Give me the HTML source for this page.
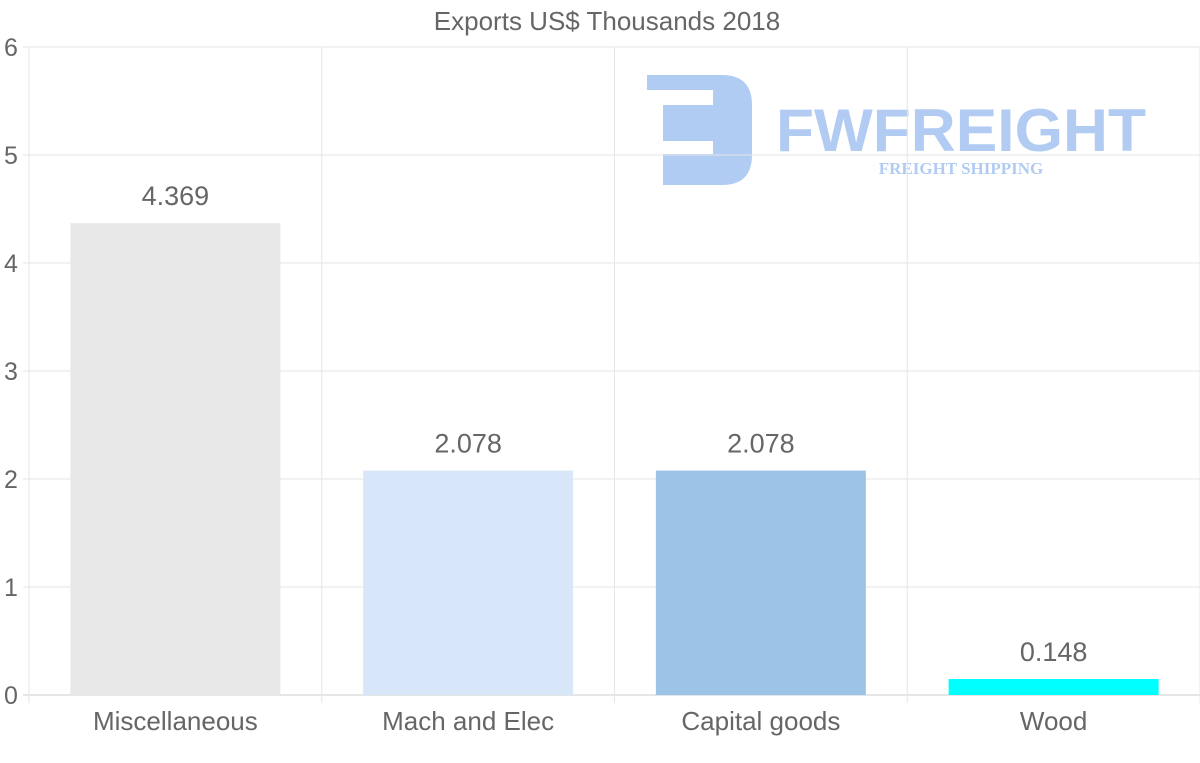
<!DOCTYPE html>
<html><head><meta charset="utf-8"><style>
body{margin:0;background:#fff;width:1200px;height:763px;overflow:hidden}
svg{display:block;font-family:"Liberation Sans",sans-serif}
</style></head><body>
<svg id="chart" width="1200" height="763">
<text x="607" y="30" text-anchor="middle" font-size="26" fill="#666">Exports US$ Thousands 2018</text>
<g id="logo" opacity="0.9">
<path d="M647,75 H722 Q752,75 752,105 V155 Q752,185 722,185 H663 V154 H713 V141 H663 V105 H713 V90 H647 Z" fill="#a9c6f2"/>
<text x="776" y="151" font-size="60" font-weight="bold" fill="#a9c6f2" textLength="370" lengthAdjust="spacingAndGlyphs">FWFREIGHT</text>
<text x="961" y="174" text-anchor="middle" font-family="Liberation Serif,serif" font-weight="bold" font-size="17" fill="#a9c6f2">FREIGHT SHIPPING</text>
</g>
<g id="grid"></g><g id="bars"></g><g id="labels"></g>
</svg>
<script>
const categories=["Miscellaneous","Mach and Elec","Capital goods","Wood"];
const values=[4.369,2.078,2.078,0.148];
const valueLabels=["4.369","2.078","2.078","0.148"];
const colors=["#e8e8e8","#d7e7f9","#9cc4e6","#00ffff"];
const yTicks=[0,1,2,3,4,5,6];
const NS="http://www.w3.org/2000/svg";
const L=29,R=1200,T=47,B=695,yMax=6;
const y=v=>B-(v/yMax)*(B-T);
const bw=(R-L)/categories.length;
const x=i=>L+bw*i;
function mk(tag,attrs,parent,txt){const e=document.createElementNS(NS,tag);for(const k in attrs)e.setAttribute(k,attrs[k]);if(txt!=null)e.textContent=txt;document.getElementById(parent).appendChild(e);return e;}
yTicks.forEach(t=>{
 const g=mk("line",{x1:L-6,x2:R,y1:y(t),y2:y(t),stroke:t===0?"#ccc":"#e6e6e6"},"grid");
 
 
 const tl=mk("text",{x:11,y:y(t)+9,"text-anchor":"middle","font-size":25,fill:"#666"},"labels",t);
 
 
});
for(let i=0;i<=categories.length;i++){
 const g=mk("line",{x1:x(i),x2:x(i),y1:T,y2:B+8,stroke:"#e6e6e6"},"grid");
 
 
}
categories.forEach((c,i)=>{
 const cx=x(i)+bw/2,w=210;
 const r=mk("rect",{x:cx-w/2,y:y(values[i]),width:w,height:B-y(values[i]),fill:colors[i]},"bars");
 
 
 const v=mk("text",{x:cx,y:y(values[i])-18,"text-anchor":"middle","font-size":27,fill:"#666"},"labels",valueLabels[i]);
 
 
 const l=mk("text",{x:cx,y:730,"text-anchor":"middle","font-size":26,fill:"#666"},"labels",c);
 
 
});
</script>
</body></html>
